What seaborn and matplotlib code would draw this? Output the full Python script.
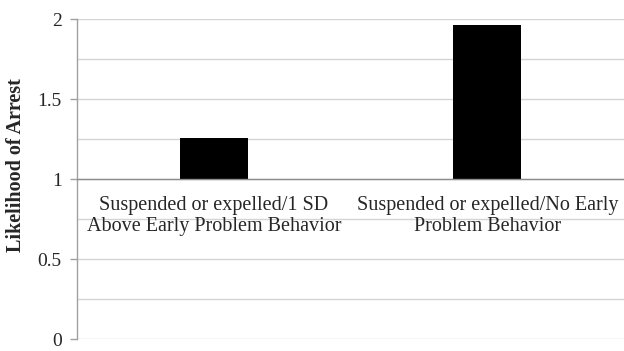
import numpy as np
import matplotlib
matplotlib.use("Agg")
import matplotlib.pyplot as plt
import seaborn as sns

categories = [
    "Suspended or expelled/1 SD\nAbove Early Problem Behavior",
    "Suspended or expelled/No Early\nProblem Behavior",
]
likelihood = [1.257, 1.963]
baseline = 1.0
y_ticks = [0, 0.5, 1, 1.5, 2]
y_ticklabels = ["0", "0.5", "1", "1.5", "2"]

sns.set_theme(style="white")
plt.rcParams["font.family"] = ["Liberation Serif", "DejaVu Serif"]

fig = plt.figure(figsize=(6.24, 3.51), dpi=100)
ax = fig.add_axes([0.1234, 0.0330, 0.8766, 0.9128])

heights = [v - baseline for v in likelihood]
sns.barplot(x=categories, y=heights, bottom=baseline, color="black",
            width=0.25, saturation=1, ax=ax, edgecolor="black", linewidth=0)

ax.set_ylim(0, 2)
ax.set_xlim(-0.5, 1.5)

# light horizontal gridlines every 0.25
for g in np.arange(0, 2.01, 0.25):
    ax.axhline(g, color="#d4d4d4", linewidth=1.0, zorder=0)

ax.set_yticks(y_ticks)
ax.set_yticklabels(y_ticklabels)
ax.tick_params(axis="y", which="major", direction="out", length=5, width=1,
               color="#a0a0a0", labelsize=14, pad=6, left=True)

# category axis crosses the value axis at 1
ax.spines["bottom"].set_position(("data", baseline))
ax.spines["bottom"].set_color("#8c8c8c")
ax.spines["bottom"].set_linewidth(1.0)
ax.spines["bottom"].set_zorder(3)
ax.tick_params(axis="x", length=0, labelsize=14.5, pad=12)
for lbl in ax.get_xticklabels():
    lbl.set_multialignment("center")
    lbl.set_linespacing(1.15)

ax.spines["left"].set_color("#a0a0a0")
ax.spines["left"].set_linewidth(1.0)
ax.spines["top"].set_visible(False)
ax.spines["right"].set_visible(False)

ax.set_xlabel("")
ax.set_ylabel("Likelihood of Arrest", fontsize=14.5, fontweight="bold")
ax.yaxis.set_label_coords(-0.093, 0.545)

fig.savefig("out.png", dpi=100, facecolor="white")
